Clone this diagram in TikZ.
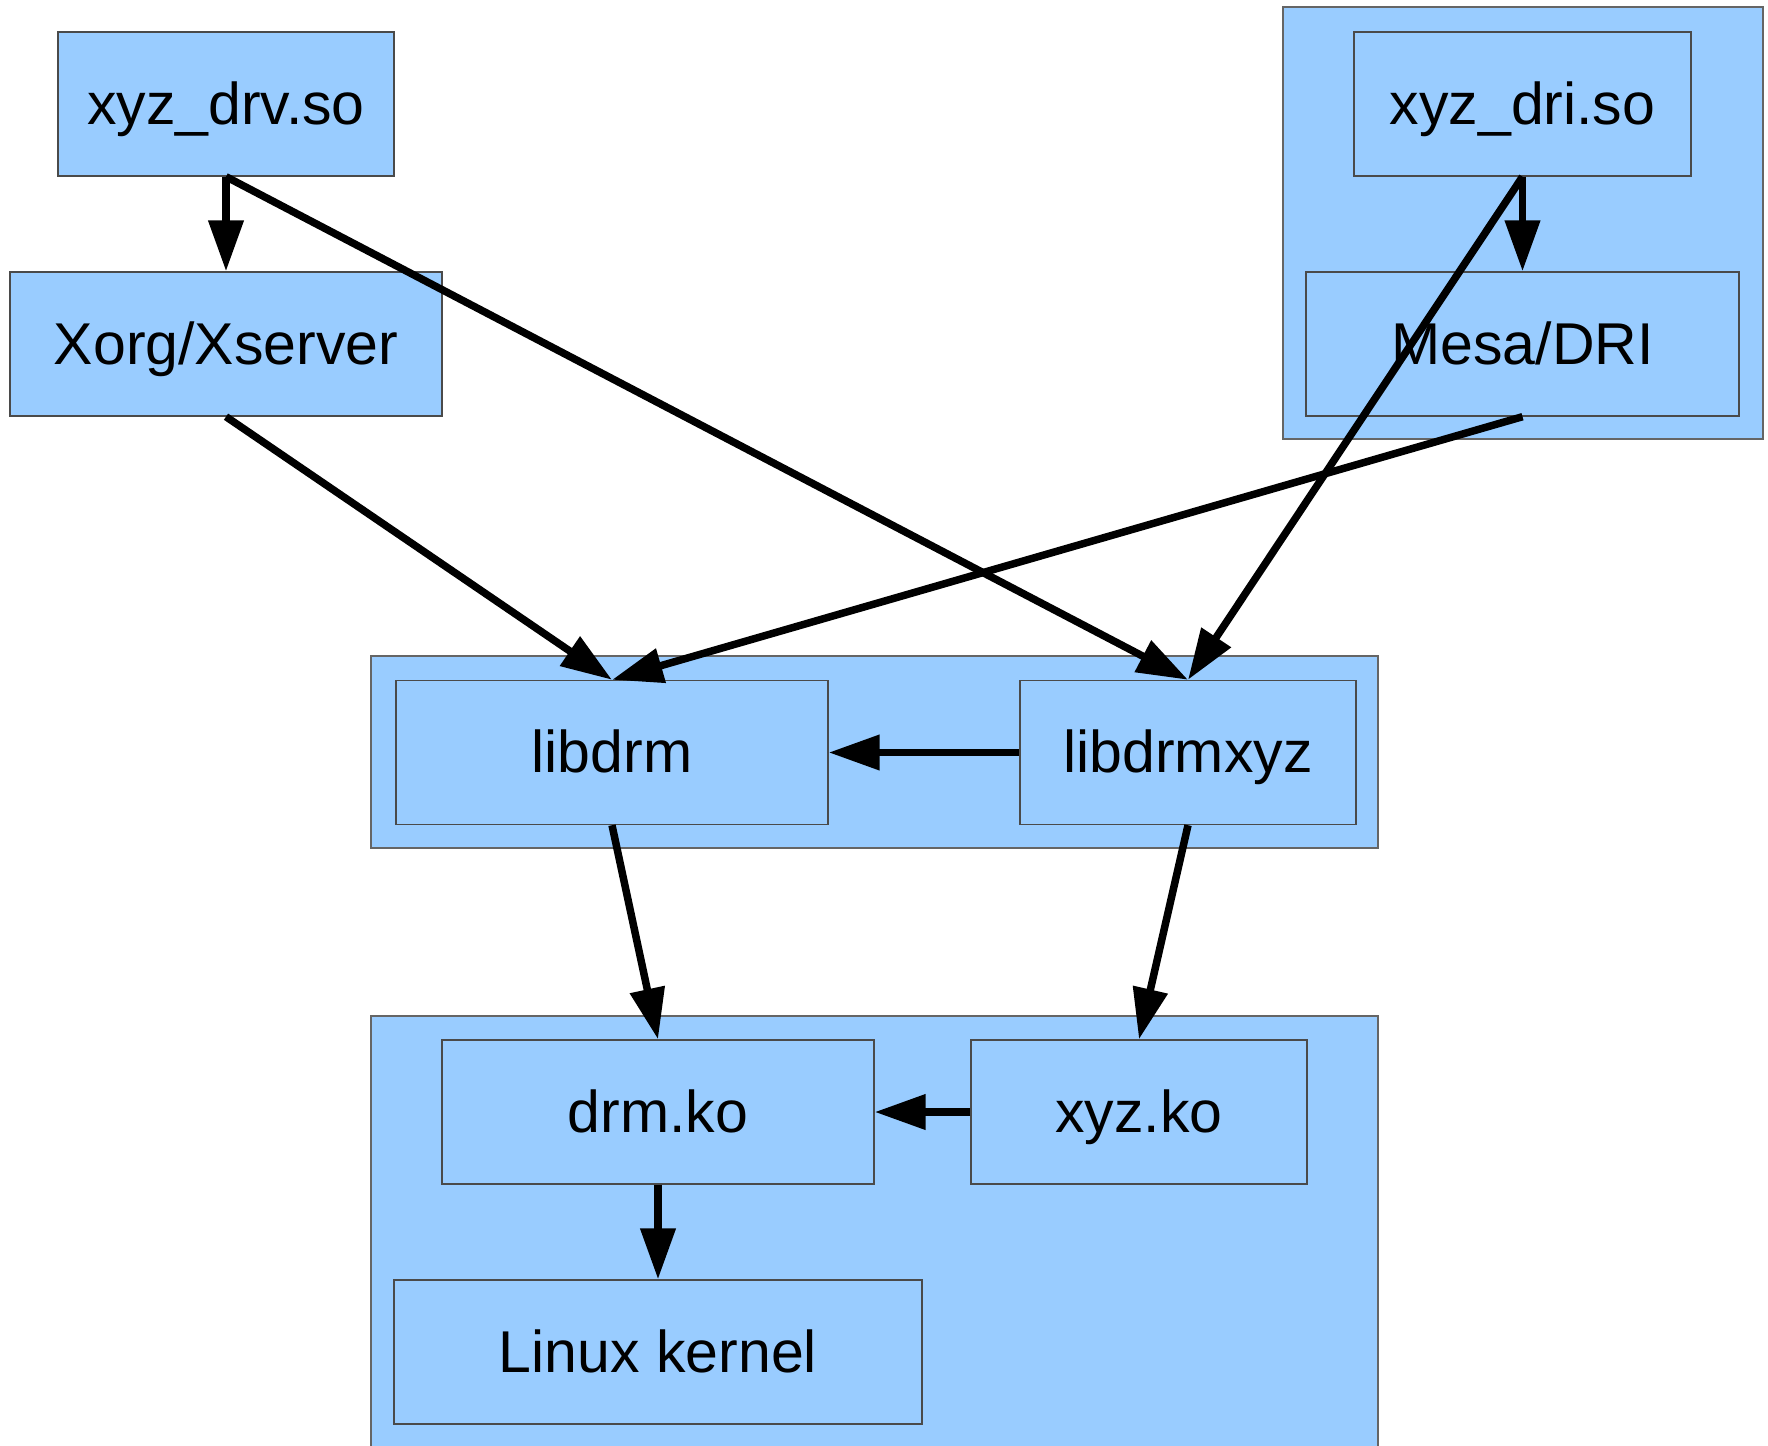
\documentclass[tikz,border=0pt]{standalone}
\usepackage{fontspec}
\setmainfont{Liberation Sans}
\usetikzlibrary{arrows.meta}
\definecolor{boxblue}{HTML}{99CCFF}
\definecolor{boxline}{HTML}{4A4A4A}
\newcommand{\boxfont}{\fontsize{59}{70}\selectfont}

\begin{document}
\begin{tikzpicture}[x=1pt,y=-1pt,
   box/.style={draw=boxline,fill=boxblue,line width=1.4pt,
      minimum width=#1,minimum height=144pt,inner sep=0pt,
      text height=42pt,text depth=2pt,font=\boxfont},
   group/.style={draw=boxline!85,fill=boxblue,line width=1.4pt,inner sep=0pt},
   dep/.style={-{Triangle[length=51pt,width=34pt]},line width=7.5pt}]
\useasboundingbox (0,0) rectangle (1768,1445);
% groups behind the boxes
\node[group,minimum width=480pt,minimum height=432pt] (drigroup) at (1523,223) {};
\node[group,minimum width=1007pt,minimum height=192pt] (libgroup) at (874.5,752) {};
\node[group,minimum width=1007pt,minimum height=440pt] (kernelgroup) at (874.5,1236) {};
% user space
\node[box=336pt] (drv) at (226,104) {xyz\_drv.so};
\node[box=432pt] (xorg) at (226,344) {Xorg/Xserver};
\node[box=337pt] (dri) at (1522.5,104) {xyz\_dri.so};
\node[box=433pt] (mesa) at (1522.5,344) {Mesa/DRI};
% libraries
\node[box=432pt] (libdrm) at (612,752.5) {libdrm};
\node[box=336pt] (libdrmxyz) at (1188,752.5) {libdrmxyz};
% kernel
\node[box=432pt] (drmko) at (658,1112) {drm.ko};
\node[box=336pt] (xyzko) at (1139,1112) {xyz.ko};
\node[box=528pt] (linux) at (658,1352) {Linux kernel};

\draw[dep] (drv.south) -- (xorg.north);
\draw[dep] (drv.south) -- (libdrmxyz.north);
\draw[dep] (xorg.south) -- (libdrm.north);
\draw[dep] (dri.south) -- (mesa.north);
\draw[dep] (dri.south) -- (libdrmxyz.north);
\draw[dep] (mesa.south) -- (libdrm.north);
\draw[dep] (libdrmxyz.west) -- (libdrm.east);
\draw[dep] (libdrm.south) -- (drmko.north);
\draw[dep] (libdrmxyz.south) -- (xyzko.north);
\draw[dep] (xyzko.west) -- (drmko.east);
\draw[dep] (drmko.south) -- (linux.north);
\end{tikzpicture}
\end{document}
